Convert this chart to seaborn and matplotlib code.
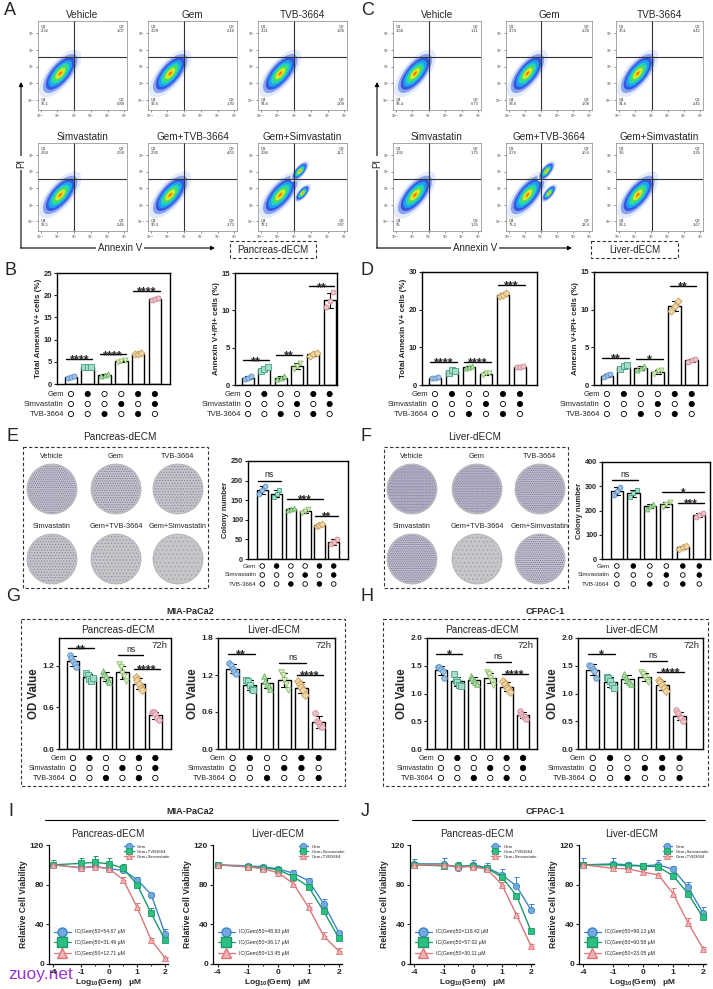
import numpy as np
import pandas as pd
import matplotlib
matplotlib.use('Agg')
import matplotlib.pyplot as plt
import seaborn as sns
from matplotlib.patches import Rectangle, Ellipse, Circle
from matplotlib.lines import Line2D

sns.set_style('white')
plt.rcParams['font.family'] = ['Liberation Sans', 'DejaVu Sans']
plt.rcParams['mathtext.fontset'] = 'custom'
plt.rcParams['mathtext.rm'] = 'Liberation Sans'
plt.rcParams['mathtext.bf'] = 'Liberation Sans:bold'
plt.rcParams['hatch.linewidth'] = 0.6

# ---------------- data ----------------
treatments = ['Vehicle', 'Gem', 'TVB-3664', 'Simvastatin', 'Gem+TVB-3664', 'Gem+Simvastatin']

# flow cytometry quadrant percentages (Q1, Q2, Q3, Q4)
flowA_q1 = [2.32, 3.29, 3.21, 2.64, 2.92, 2.86]
flowA_q2 = [1.07, 2.18, 1.06, 2.58, 4.03, 11.1]
flowA_q3 = [0.88, 1.93, 1.09, 2.46, 2.73, 7.87]
flowA_q4 = [95.1, 92.6, 94.6, 92.1, 90.3, 78.1]
flowC_q1 = [1.68, 3.74, 3.51, 1.92, 2.76, 3.60]
flowC_q2 = [1.11, 2.28, 2.42, 1.75, 10.6, 3.26]
flowC_q3 = [0.73, 1.08, 2.45, 1.35, 13.4, 1.67]
flowC_q4 = [96.4, 93.6, 91.6, 95.0, 73.2, 93.1]

# treatment matrices
gem_row = [0, 1, 0, 0, 1, 1]
simv_row = [0, 0, 0, 1, 0, 1]
tvb_row = [0, 0, 1, 0, 1, 0]
simv_row_b = [0, 0, 0, 1, 1, 0]
tvb_row_b = [0, 0, 1, 0, 0, 1]

# apoptosis (%)
B_total = [[1.3, 1.6, 1.9], [3.9, 3.9, 3.9], [1.8, 2.0, 2.2], [4.9, 5.2, 5.4], [6.7, 6.8, 7.0], [18.9, 19.2, 19.4]]
B_double = [[0.8, 1.0, 1.2], [1.9, 2.2, 2.4], [0.8, 1.0, 1.2], [2.2, 2.5, 2.9], [3.9, 4.1, 4.3], [10.4, 11.2, 12.4]]
D_total = [[1.8, 1.9, 2.0], [3.3, 3.9, 3.8], [4.5, 4.8, 5.0], [2.7, 3.1, 3.3], [23.6, 24.0, 24.3], [4.8, 4.9, 5.0]]
D_double = [[1.0, 1.3, 1.4], [2.1, 2.5, 2.6], [2.0, 2.3, 2.5], [1.5, 1.8, 2.0], [9.8, 10.5, 11.2], [3.1, 3.3, 3.5]]
B_total_sig = [(0, 1, 5.6, '****'), (2, 3, 6.7, '****'), (4, 5, 21.0, '****')]
B_double_sig = [(0, 1, 3.3, '**'), (2, 3, 4.0, '**'), (4, 5, 13.2, '**')]
D_total_sig = [(0, 1, 6.2, '****'), (2, 3, 6.2, '****'), (4, 5, 26.6, '***')]
D_double_sig = [(0, 1, 3.6, '**'), (2, 3, 3.5, '*'), (4, 5, 13.2, '**')]

# colony numbers
E_colony = [[165, 175, 186], [157, 167, 176], [125, 128, 131], [117, 122, 128], [85, 87, 89], [37, 43, 50]]
F_colony = [[264, 280, 296], [256, 272, 286], [208, 218, 226], [216, 225, 236], [42, 48, 55], [174, 182, 190]]
E_sig = [(0, 1, 200, 'ns'), (2, 4, 153, '***'), (4, 5, 110, '**')]
F_sig = [(0, 1, 326, 'ns'), (3, 5, 276, '*'), (4, 5, 231, '***')]

# OD values (72h)
G_panc = [[1.35, 1.31, 1.27, 1.22, 1.18], [1.10, 1.06, 1.01, 0.98, 1.02], [1.12, 1.08, 1.05, 1.00, 0.96],
          [1.22, 1.18, 1.10, 1.05, 0.98], [1.04, 1.00, 0.93, 0.88, 0.85], [0.54, 0.53, 0.50, 0.45, 0.42]]
G_liver = [[1.40, 1.36, 1.30, 1.25, 1.21], [1.12, 1.10, 1.04, 0.98, 0.95], [1.18, 1.10, 1.06, 1.02, 0.98],
           [1.25, 1.20, 1.12, 1.05, 0.96], [1.10, 1.05, 1.00, 0.95, 0.88], [0.58, 0.46, 0.42, 0.38, 0.35]]
H_panc = [[1.48, 1.47, 1.45, 1.40, 1.28], [1.35, 1.25, 1.20, 1.16, 1.13], [1.32, 1.28, 1.24, 1.20, 1.17],
          [1.38, 1.35, 1.28, 1.22, 1.16], [1.22, 1.18, 1.12, 1.08, 1.03], [0.68, 0.63, 0.60, 0.57, 0.54]]
H_liver = [[1.52, 1.50, 1.45, 1.40, 1.28], [1.30, 1.28, 1.22, 1.15, 1.10], [1.35, 1.30, 1.25, 1.20, 1.18],
           [1.38, 1.35, 1.30, 1.25, 1.20], [1.25, 1.20, 1.15, 1.10, 1.05], [0.70, 0.65, 0.58, 0.55, 0.50]]
G_panc_sig = [(0, 1, 1.45, '**'), (3, 4, 1.35, 'ns'), (4, 5, 1.16, '****')]
G_liver_sig = [(0, 1, 1.54, '**'), (3, 4, 1.40, 'ns'), (4, 5, 1.20, '****')]
H_panc_sig = [(0, 1, 1.71, '*'), (3, 4, 1.57, 'ns'), (4, 5, 1.36, '****')]
H_liver_sig = [(0, 1, 1.72, '*'), (3, 4, 1.59, 'ns'), (4, 5, 1.39, '****')]

# dose response
log_dose = [-4, -1, -0.5, 0, 0.5, 1, 1.5, 2]
I_panc_gem = [100, 97, 98.5, 96, 94.5, 85, 70, 30]
I_panc_gem_err = [3, 3, 2, 3, 3, 3, 2, 5]
I_panc_tvb = [100, 101.5, 102.5, 101, 96.5, 80, 51, 24]
I_panc_tvb_err = [5, 5, 6, 6, 4, 3, 5, 4]
I_panc_simv = [100, 97, 98, 96, 85, 57, 24, 6]
I_panc_simv_err = [3, 3, 2, 2, 3, 5, 2, 1]
I_liver_gem = [100, 99, 98, 96, 91.5, 84, 60.5, 31.5]
I_liver_gem_err = [2, 2, 2, 2, 3, 3, 5, 2]
I_liver_simv = [100, 98, 97, 95, 88, 78, 53, 26]
I_liver_simv_err = [2, 2, 2, 2, 3, 3, 4, 3]
I_liver_tvb = [100, 98, 96, 92, 81, 57, 28, 13]
I_liver_tvb_err = [2, 2, 2, 2, 3, 5, 4, 3]
J_panc_gem = [101, 101, 97, 100, 97, 90, 78.5, 54.5]
J_panc_gem_err = [5, 6, 4, 5, 5, 6, 9, 6]
J_panc_tvb = [100, 99, 99, 99, 96.5, 87.5, 69, 33]
J_panc_tvb_err = [3, 3, 4, 3, 3, 3, 3, 2]
J_panc_simv = [100, 100, 98, 98, 95.5, 80, 49.5, 18]
J_panc_simv_err = [2, 2, 2, 2, 2, 3, 2, 2]
J_liver_gem = [100, 101, 100, 99, 100, 95.5, 77.5, 51.5]
J_liver_gem_err = [7, 6, 3, 3, 5, 3, 5, 6]
J_liver_simv = [100, 100, 99, 99, 98, 89, 71, 47]
J_liver_simv_err = [3, 3, 3, 3, 3, 3, 3, 3]
J_liver_tvb = [100, 96.5, 96, 92.5, 90, 71, 41.5, 15.5]
J_liver_tvb_err = [2, 2, 2, 2, 2, 6, 5, 2]
I_panc_ic = [54.67, 31.49, 12.71]
I_liver_ic = [48.93, 36.17, 13.45]
J_panc_ic = [118.42, 57.02, 30.11]
J_liver_ic = [99.13, 60.58, 23.05]

# ---------------- styles ----------------
dot_marker = ['o', 's', '^', 'v', 'D', 'o']
dot_face = ['#9dc3e6', '#a6dcc6', '#b3dfae', '#dcefc8', '#f0d6a4', '#f2c2ca']
dot_edge = ['#5b8fc7', '#45a283', '#69b063', '#8fbc6c', '#c79c5c', '#c98895']
c_blue = ('#3d85c6', '#74a9dd', 'o')
c_green = ('#1b9a68', '#2cbf82', 's')
c_pink = ('#d9777a', '#f3b3b3', '^')

W, H = 713, 989
fig = plt.figure(figsize=(W / 100, H / 100), dpi=100)


def px_ax(x0, y0, x1, y1):
    return fig.add_axes([x0 / W, 1 - y1 / H, (x1 - x0) / W, (y1 - y0) / H])


ov = fig.add_axes([0, 0, 1, 1])
ov.set_xlim(0, W)
ov.set_ylim(H, 0)
ov.axis('off')


def dbox(x0, y0, x1, y1):
    ov.add_patch(Rectangle((x0, y0), x1 - x0, y1 - y0, fill=False, ls=(0, (3, 2)), lw=0.8, ec='#333333'))


for lab, (x, y) in zip('ABCDEFGHIJ', [(4, 2), (4, 262), (361, 2), (361, 262), (6, 428),
                                     (361, 428), (6, 588), (361, 588), (8, 803), (361, 803)]):
    ov.text(x, y, lab, fontsize=13, va='top')


# ---------------- A / C flow plots ----------------
blob_cols = ['#e3eafb', '#8aa3f0', '#3656e0', '#1f9ff0', '#22d2c2', '#52e052', '#cdf040', '#ffd200', '#ff6a00']
blob_w = [0.66, 0.54, 0.45, 0.37, 0.29, 0.22, 0.15, 0.10, 0.055]


def flow(ax, title, q1, q2, q3, q4):
    ax.set_xlim(0, 1)
    ax.set_ylim(0, 1)
    centers = [(0.25, 0.41, 1.0)]
    if q2 > 5:
        centers.append((0.47, 0.68, 0.45))
    if q3 > 5:
        centers.append((0.50, 0.43, 0.4))
    for cx, cy, sc in centers:
        for col, w in zip(blob_cols, blob_w):
            ax.add_patch(Ellipse((cx, cy), w * sc, w * 0.42 * sc, angle=50, color=col, lw=0))
    ax.axvline(0.41, color='#333333', lw=0.8)
    ax.axhline(0.59, color='#333333', lw=0.8)
    kw = dict(fontsize=3, color='#333333', transform=ax.transAxes, linespacing=1.3)
    ax.text(0.03, 0.96, f'Q1\n{q1:.3g}', va='top', **kw)
    ax.text(0.97, 0.96, f'Q2\n{q2:.3g}', va='top', ha='right', **kw)
    ax.text(0.03, 0.04, f'Q4\n{q4:.3g}', va='bottom', **kw)
    ax.text(0.97, 0.04, f'Q3\n{q3:.3g}', va='bottom', ha='right', **kw)
    pos = np.linspace(0.03, 0.97, 6)
    labs = [f'$10^{{{k}}}$' for k in range(-1, 5)]
    ax.set_xticks(pos, labs, fontsize=2.5)
    ax.set_yticks(pos[:5] + 0.08, labs[:5], fontsize=2.5)
    ax.tick_params(left=True, bottom=True, length=1.5, width=0.4, pad=0.5, colors='#444444')
    for s in ax.spines.values():
        s.set_linewidth(0.4)
        s.set_color('#666666')
    ax.set_title(title, fontsize=7.2, pad=2.5)


A_cols = [(38, 127), (148, 237), (258, 347)]
C_cols = [(393, 481), (506, 592), (616, 703)]
flow_rows = [(21, 110), (143, 231)]
for k, name in enumerate(treatments):
    r, c = divmod(k, 3)
    flow(px_ax(A_cols[c][0], flow_rows[r][0], A_cols[c][1], flow_rows[r][1]), name,
         flowA_q1[k], flowA_q2[k], flowA_q3[k], flowA_q4[k])
    flow(px_ax(C_cols[c][0], flow_rows[r][0], C_cols[c][1], flow_rows[r][1]), name,
         flowC_q1[k], flowC_q2[k], flowC_q3[k], flowC_q4[k])

arr = dict(arrowstyle='-|>', lw=0.8, color='black', mutation_scale=6, shrinkA=0, shrinkB=0)
for x0, x1, xm, tag, bx in [(21, 215, 120, 'Pancreas-dECM', (230, 316)), (377, 572, 475, 'Liver-dECM', (591, 678))]:
    ov.annotate('', xy=(x0, 82), xytext=(x0, 248), arrowprops=arr)
    ov.annotate('', xy=(x1, 248), xytext=(x0 - 0.4, 248), arrowprops=arr)
    ov.text(x0, 163, 'PI', rotation=90, ha='center', va='center', fontsize=7,
            bbox=dict(fc='white', ec='none', pad=1.5))
    ov.text(xm, 248, 'Annexin V', ha='center', va='center', fontsize=7,
            bbox=dict(fc='white', ec='none', pad=1.5))
    dbox(bx[0], 241, bx[1], 258)
    ov.text((bx[0] + bx[1]) / 2, 250, tag, ha='center', va='center', fontsize=7)


# ---------------- bar charts ----------------
def bars(ax, pts, ylim, yticks, ylabel, sigs, xlim, fmt='{:g}', ylfs=5.8, tfs=5.5, s=13, sfs=9):
    df = pd.DataFrame([(i, v) for i, g in enumerate(pts) for v in g], columns=['grp', 'val'])
    sns.barplot(data=df, x='grp', y='val', native_scale=True, errorbar='sd', color='white',
                edgecolor='black', linewidth=1.0, width=0.75, capsize=0.35,
                err_kws={'color': 'black', 'linewidth': 0.8}, ax=ax)
    for i, g in enumerate(pts):
        off = np.linspace(-0.2, 0.2, len(g))
        ax.scatter(i + off, g, marker=dot_marker[i], s=s, facecolor=dot_face[i],
                   edgecolor=dot_edge[i], linewidth=0.6, zorder=4)
    for i, j, y, lab in sigs:
        ax.plot([i - 0.28, j + 0.28], [y, y], color='black', lw=1.0)
        if lab == 'ns':
            ax.annotate(lab, ((i + j) / 2, y), xytext=(0, 0.8), textcoords='offset points',
                        ha='center', va='bottom', fontsize=6.3)
        else:
            ax.annotate(lab, ((i + j) / 2, y), xytext=(0, -3.2), textcoords='offset points',
                        ha='center', va='baseline', fontsize=sfs, fontweight='bold')
    ax.set_xlim(*xlim)
    ax.set_ylim(*ylim)
    ax.set_xticks([])
    ax.set_yticks(yticks, [fmt.format(v) for v in yticks], fontsize=tfs, fontweight='bold')
    ax.tick_params(axis='y', left=True, length=2.5, width=0.8, pad=1)
    ax.set_xlabel('')
    ax.set_ylabel(ylabel, fontsize=ylfs, fontweight='bold', labelpad=1.5)
    for sp in ax.spines.values():
        sp.set_visible(True)
        sp.set_linewidth(1.0)
        sp.set_color('black')


def matrix(x0, x1, y0, step, xlim, rows, fs, s):
    ax = px_ax(x0, y0 - step / 2, x1, y0 + 2.5 * step)
    ax.set_xlim(*xlim)
    ax.set_ylim(2.5, -0.5)
    ax.axis('off')
    for r, (name, vals) in enumerate(rows):
        ax.scatter(range(len(vals)), [r] * len(vals), s=s, c=['black' if v else 'white' for v in vals],
                   edgecolors='black', linewidths=0.6, clip_on=False)
        ax.text(-0.42, r, name, ha='right', va='center', fontsize=fs)


rows_a = [('Gem', gem_row), ('Simvastatin', simv_row), ('TVB-3664', tvb_row)]
rows_b = [('Gem', gem_row), ('Simvastatin', simv_row_b), ('TVB-3664', tvb_row_b)]

panels_bd = [
    ((57, 273, 170, 384), B_total, (0, 25), [0, 5, 10, 15, 20, 25], 'Total Annexin V+ cells (%)', B_total_sig, (-0.83, 5.9)),
    ((235, 273, 337, 385), B_double, (0, 15), [0, 5, 10, 15], 'Annexin V+/PI+ cells (%)', B_double_sig, (-0.8, 5.45)),
    ((422, 272, 537, 385), D_total, (0, 30), [0, 10, 20, 30], 'Total Annexin V+ cells (%)', D_total_sig, (-0.76, 6.0)),
    ((594, 272, 707, 385), D_double, (0, 15), [0, 5, 10, 15], 'Annexin V+/PI+ cells (%)', D_double_sig, (-0.76, 5.9)),
]
for box, pts, yl, yt, lab, sg, xl in panels_bd:
    bars(px_ax(*box), pts, yl, yt, lab, sg, xl)
    matrix(box[0], box[2], 394, 10, xl, rows_a, 5.5, 14)


# ---------------- E / F colonies ----------------
def plates(cxs, cys, label_ys, colony):
    for k, name in enumerate(treatments):
        r, c = divmod(k, 3)
        ov.add_patch(Circle((cxs[c], cys[r]), 25, fc='#c6c6c6', ec='#a8a8a8', lw=0.5))
        m = np.mean(colony[k])
        n = int(m / 35) + 3
        ov.add_patch(Circle((cxs[c], cys[r]), 24, fill=False, hatch='.' * n, ec='#4a3f9f', lw=0,
                            alpha=min(0.65, 0.1 + m / 350)))
        ov.text(cxs[c], label_ys[r], name, ha='center', va='center', fontsize=5.3)


dbox(23, 447, 208, 588)
ov.text(120, 437, 'Pancreas-dECM', ha='center', va='center', fontsize=7.2)
plates([52, 116, 178], [489, 559], [456, 527], E_colony)
dbox(384, 447, 568, 588)
ov.text(475, 437, 'Liver-dECM', ha='center', va='center', fontsize=7.2)
plates([412, 477, 540], [489, 559], [456, 527], F_colony)

e_box, e_xl = (248, 461, 348, 559), (-1.0, 6.0)
bars(px_ax(*e_box), E_colony, (0, 250), [0, 50, 100, 150, 200, 250], 'Colony number', E_sig, e_xl,
     ylfs=5.5, tfs=5.2, s=12, sfs=8.5)
matrix(e_box[0], e_box[2], 566, 9, e_xl, rows_a, 4.4, 11)
f_box, f_xl = (602, 462, 710, 559), (-0.9, 5.65)
bars(px_ax(*f_box), F_colony, (0, 400), [0, 100, 200, 300, 400], 'Colony number', F_sig, f_xl,
     ylfs=5.5, tfs=5.2, s=12, sfs=8.5)
matrix(f_box[0], f_box[2], 566, 9, f_xl, rows_a, 4.4, 11)


# ---------------- G / H OD values ----------------
dbox(21, 619, 345, 786)
dbox(383, 619, 708, 786)
for x, t in [(190, 'MIA-PaCa2'), (545, 'CFPAC-1')]:
    ov.text(x, 611, t, ha='center', va='center', fontsize=6.6, fontweight='bold')
for x, t in [(118, 'Pancreas-dECM'), (274, 'Liver-dECM'), (482, 'Pancreas-dECM'), (632, 'Liver-dECM')]:
    ov.text(x, 630, t, ha='center', va='center', fontsize=7.2)

od_panels = [
    ((59, 638, 171, 749), G_panc, (0, 1.6), [0, 0.6, 1.2], G_panc_sig, (-0.85, 5.95), rows_a),
    ((218, 638, 335, 749), G_liver, (0, 1.8), [0, 0.6, 1.2, 1.8], G_liver_sig, (-0.85, 5.95), rows_b),
    ((427, 638, 537, 749), H_panc, (0, 2.0), [0, 0.5, 1.0, 1.5, 2.0], H_panc_sig, (-0.85, 5.85), rows_a),
    ((578, 638, 703, 749), H_liver, (0, 2.0), [0, 0.5, 1.0, 1.5, 2.0], H_liver_sig, (-0.85, 6.35), rows_b),
]
for box, pts, yl, yt, sg, xl, rws in od_panels:
    ax = px_ax(*box)
    bars(ax, pts, yl, yt, 'OD Value', sg, xl, fmt='{:.1f}', ylfs=8.3, tfs=6, s=16, sfs=9)
    ax.text(0.97, 0.975, '72h', transform=ax.transAxes, ha='right', va='top', fontsize=6.8)
    matrix(box[0], box[2], 758, 10, xl, rws, 5.2, 15)


# ---------------- I / J dose response ----------------
def dose_pos(v):
    return -2.0 if v < -2 else v


def dose(ax, means, errs, styles, labels, ics):
    xp = [dose_pos(v) for v in log_dose]
    for m, e, (col, face, mk), lab in zip(means, errs, styles, labels):
        ax.errorbar(xp, m, yerr=[np.zeros(len(e)), e], fmt='none', ecolor=col, elinewidth=0.7,
                    capsize=1.8, capthick=0.7, zorder=2)
        sns.lineplot(x=xp, y=m, ax=ax, color=col, lw=1.0, marker=mk, markersize=4.6,
                     markerfacecolor=face, markeredgecolor=col, markeredgewidth=0.6, label=lab, zorder=3)
    leg = ax.legend(loc='upper right', fontsize=3.1, frameon=False, handlelength=2.2,
                    borderaxespad=0.1, labelspacing=0.25, bbox_to_anchor=(1.04, 1.02))
    ax.add_artist(leg)
    hs = [Line2D([0], [0], color=col, marker=mk, markersize=6.5, mfc=face, mec=col, lw=0.9)
          for col, face, mk in styles]
    ax.legend(hs, [f'IC(Gem)50={v:.2f} μM' for v in ics], loc='lower left', fontsize=3.7,
              frameon=False, handlelength=3.4, labelspacing=1.1, bbox_to_anchor=(0.0, 0.03))
    ax.set_xlim(-2.15, 2.1)
    ax.set_ylim(0, 120)
    ax.set_xticks([dose_pos(-4), -1, 0, 1, 2], ['-4', '-1', '0', '1', '2'], fontsize=6, fontweight='bold')
    ax.set_xticks([-0.5, 0.5, 1.5], minor=True)
    ax.set_yticks([0, 40, 80, 120], ['0', '40', '80', '120'], fontsize=6, fontweight='bold')
    ax.tick_params(which='both', bottom=True, left=True, direction='out', length=2.5, width=0.8, pad=1)
    ax.tick_params(which='minor', length=1.5)
    for sp in ['top', 'right']:
        ax.spines[sp].set_visible(False)
    for sp in ['left', 'bottom']:
        ax.spines[sp].set_linewidth(0.9)
        ax.spines[sp].set_color('black')
    ax.set_xlabel(r'Log$_{\mathbf{10}}$(Gem)   μM', fontsize=6, fontweight='bold', labelpad=1)
    ax.set_ylabel('Relative Cell Viability', fontsize=6.2, fontweight='bold', labelpad=1.5)


for x, x0, x1, t in [(190, 45, 338, 'MIA-PaCa2'), (545, 412, 705, 'CFPAC-1')]:
    ov.text(x, 811, t, ha='center', va='center', fontsize=6.6, fontweight='bold')
    ov.plot([x0, x1], [820, 820], color='black', lw=0.8)
for x, t in [(108, 'Pancreas-dECM'), (278, 'Liver-dECM'), (477, 'Pancreas-dECM'), (632, 'Liver-dECM')]:
    ov.text(x, 834, t, ha='center', va='center', fontsize=7.2)

lab_l = ['Gem', 'Gem+TVB3664', 'Gem+Simvastatin']
lab_r = ['Gem', 'Gem+Simvastatin', 'Gem+TVB3664']
sty = [c_blue, c_green, c_pink]
dose(px_ax(49, 845, 168, 964), [I_panc_gem, I_panc_tvb, I_panc_simv],
     [I_panc_gem_err, I_panc_tvb_err, I_panc_simv_err], sty, lab_l, I_panc_ic)
dose(px_ax(213, 845, 342, 964), [I_liver_gem, I_liver_simv, I_liver_tvb],
     [I_liver_gem_err, I_liver_simv_err, I_liver_tvb_err], sty, lab_r, I_liver_ic)
dose(px_ax(410, 845, 534, 964), [J_panc_gem, J_panc_tvb, J_panc_simv],
     [J_panc_gem_err, J_panc_tvb_err, J_panc_simv_err], sty, lab_l, J_panc_ic)
dose(px_ax(579, 845, 706, 964), [J_liver_gem, J_liver_simv, J_liver_tvb],
     [J_liver_gem_err, J_liver_simv_err, J_liver_tvb_err], sty, lab_r, J_liver_ic)

ov.text(8, 975, 'zuoy.net', fontsize=12.5, color='#9b35d6', va='center', zorder=10)
ov.set_zorder(0)

fig.savefig('out.png', dpi=100)
